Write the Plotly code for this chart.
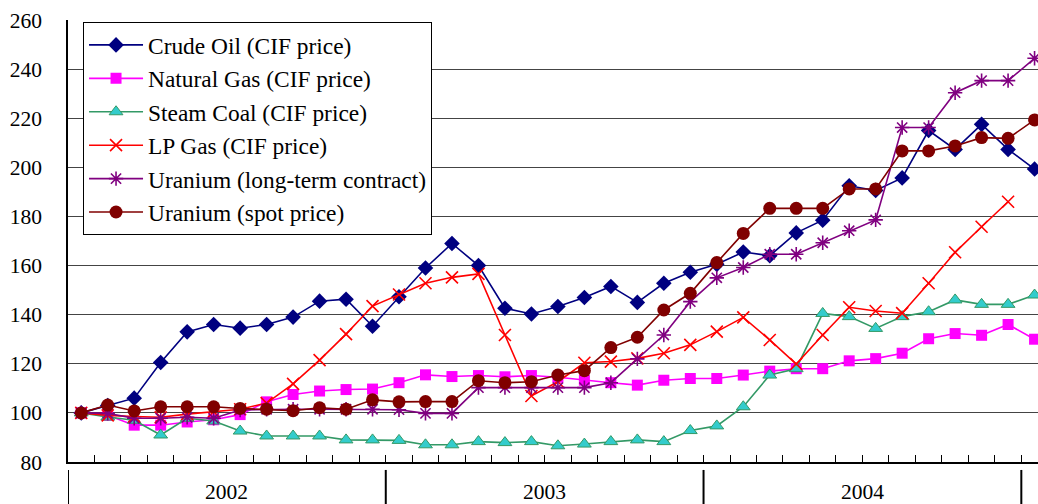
import plotly.graph_objects as go

years = ["2002", "2003", "2004"]
months = ([f"2002-{m:02d}" for m in range(1, 13)] + [f"2003-{m:02d}" for m in range(1, 13)]
          + [f"2004-{m:02d}" for m in range(1, 13)] + ["2005-01"])

crude = [100, 103, 106, 120.5, 133, 136, 134.5, 136, 139, 145.5, 146.3, 135.3,
         147.3, 159, 169, 160, 142.6, 140.3, 143.3, 147, 151.5, 145, 152.8, 157.3,
         160.5, 165.5, 164, 173.3, 178.5, 192.5, 190.6, 195.7, 215, 207.3, 217.5, 207.3,
         199.3]
natgas = [100, 99, 95, 95, 96.3, 97.2, 99.3, 104.5, 107.5, 108.9, 109.5, 109.7,
          112.3, 115.5, 114.8, 115.2, 114.7, 115.2, 114.5, 113.3, 112.3, 111.3, 113.3, 114,
          114, 115.4, 117, 118, 118, 121.2, 122.1, 124.3, 130.2, 132.3, 131.6, 136,
          130]
coal = [100, 98.3, 97, 91, 97.8, 96.7, 92.6, 90.6, 90.6, 90.6, 89, 89,
        88.8, 87, 87, 88.3, 87.9, 88.3, 86.6, 87.3, 88.3, 89, 88.3, 92.8,
        94.7, 102.5, 115.4, 118, 140.5, 139.2, 134.4, 139.2, 141.2, 146, 144.2, 144.2,
        148]
lpg = [100, 99, 98.5, 98.2, 99.5, 100.5, 101.5, 104, 111.8, 121.5, 132.1, 143.5,
       148.2, 152.8, 155.2, 156.6, 131.7, 106.9, 112.7, 120.4, 120.9, 122.2, 124.3, 127.7,
       133.1, 138.9, 129.7, 119.9, 131.7, 143, 141.5, 140.6, 152.8, 165.4, 175.8, 186,
       None]
uran_lt = [100, 99.8, 97.8, 97.8, 98.2, 97.8, 101.2, 101.5, 101.5, 101.5, 101.5, 101.5,
           101.3, 99.8, 99.8, 110.3, 110.3, 110.3, 110.3, 110.3, 112.3, 122, 131.7, 145.3,
           155, 159.2, 164.6, 164.6, 169.3, 174.2, 178.6, 216.2, 216.2, 230.4, 235.3, 235.3,
           244.4]
uran_spot = [100, 103.2, 100.8, 102.5, 102.5, 102.5, 101.8, 101.5, 100.9, 102.1, 101.5, 105.3,
             104.5, 104.6, 104.6, 113.1, 112.3, 112.7, 115.4, 117.2, 126.6, 130.8, 141.9, 148.7,
             161.2, 173.1, 183.3, 183.3, 183.3, 191.2, 191.2, 206.7, 206.7, 208.7, 212.1, 211.8,
             219.3]

FONT = "Liberation Serif, Times New Roman, serif"
x = list(range(len(months)))

series = [
    ("Crude Oil (CIF price)", crude, "#000080", dict(symbol="diamond", size=12, color="#000080")),
    ("Natural Gas (CIF price)", natgas, "#FF00FF", dict(symbol="square", size=11, color="#FF00FF")),
    ("Steam Coal (CIF price)", coal, "#339966",
     dict(symbol="triangle-up", size=12, color="#33CCCC", line=dict(color="#339966", width=1))),
    ("LP Gas (CIF price)", lpg, "#FF0000",
     dict(symbol="x-thin-open", size=12, color="#FF0000", line=dict(color="#FF0000", width=1.6))),
    ("Uranium (long-term contract)", uran_lt, "#800080",
     dict(symbol="asterisk-open", size=12, color="#800080", line=dict(color="#800080", width=1.6))),
    ("Uranium (spot price)", uran_spot, "#800000", dict(symbol="circle", size=13, color="#800000")),
]

fig = go.Figure()
for name, vals, lc, mk in series:
    fig.add_trace(go.Scatter(x=x, y=vals, name=name, mode="lines+markers",
                             line=dict(color=lc, width=1.6), marker=mk,
                             legendgroup=name, text=months))

n_year = 12
shapes = []
for k in range(len(years) + 1):
    xb = k * n_year - 0.5
    shapes.append(dict(type="line", xref="x", yref="paper", x0=xb, x1=xb, y0=-0.018, y1=-0.2,
                       line=dict(color="black", width=2)))
annotations = []
for k, yr in enumerate(years):
    annotations.append(dict(x=k * n_year + (n_year - 1) / 2, y=-0.068, xref="x", yref="paper",
                            text=yr, showarrow=False, yanchor="middle",
                            font=dict(family=FONT, size=21.5, color="black")))

fig.update_layout(
    width=1038, height=504,
    margin=dict(l=68, r=0, t=20, b=42),
    paper_bgcolor="white", plot_bgcolor="white",
    font=dict(family=FONT, size=21.5, color="black"),
    shapes=shapes, annotations=annotations,
    showlegend=True,
    legend=dict(x=0.0155, y=0.995, xanchor="left", yanchor="top",
                bgcolor="white", bordercolor="black", borderwidth=1,
                font=dict(family=FONT, size=23.4, color="black"),
                itemwidth=54, tracegroupgap=4.3, traceorder="normal"),
)
fig.update_xaxes(range=[-0.5, 36.13], tickmode="array",
                 tickvals=[i - 0.5 for i in range(len(months) + 1)],
                 ticks="inside", ticklen=7, tickcolor="black", tickwidth=1.2,
                 showticklabels=False, showgrid=False, zeroline=False,
                 showline=True, linecolor="black", linewidth=1.5)
fig.update_yaxes(range=[80, 260], dtick=20, tick0=80, showgrid=True, gridcolor="#444444",
                 gridwidth=1, zeroline=False, showline=True, linecolor="black", linewidth=1.5,
                 ticks="", ticklabelstandoff=20)

fig.write_html("out.html")
